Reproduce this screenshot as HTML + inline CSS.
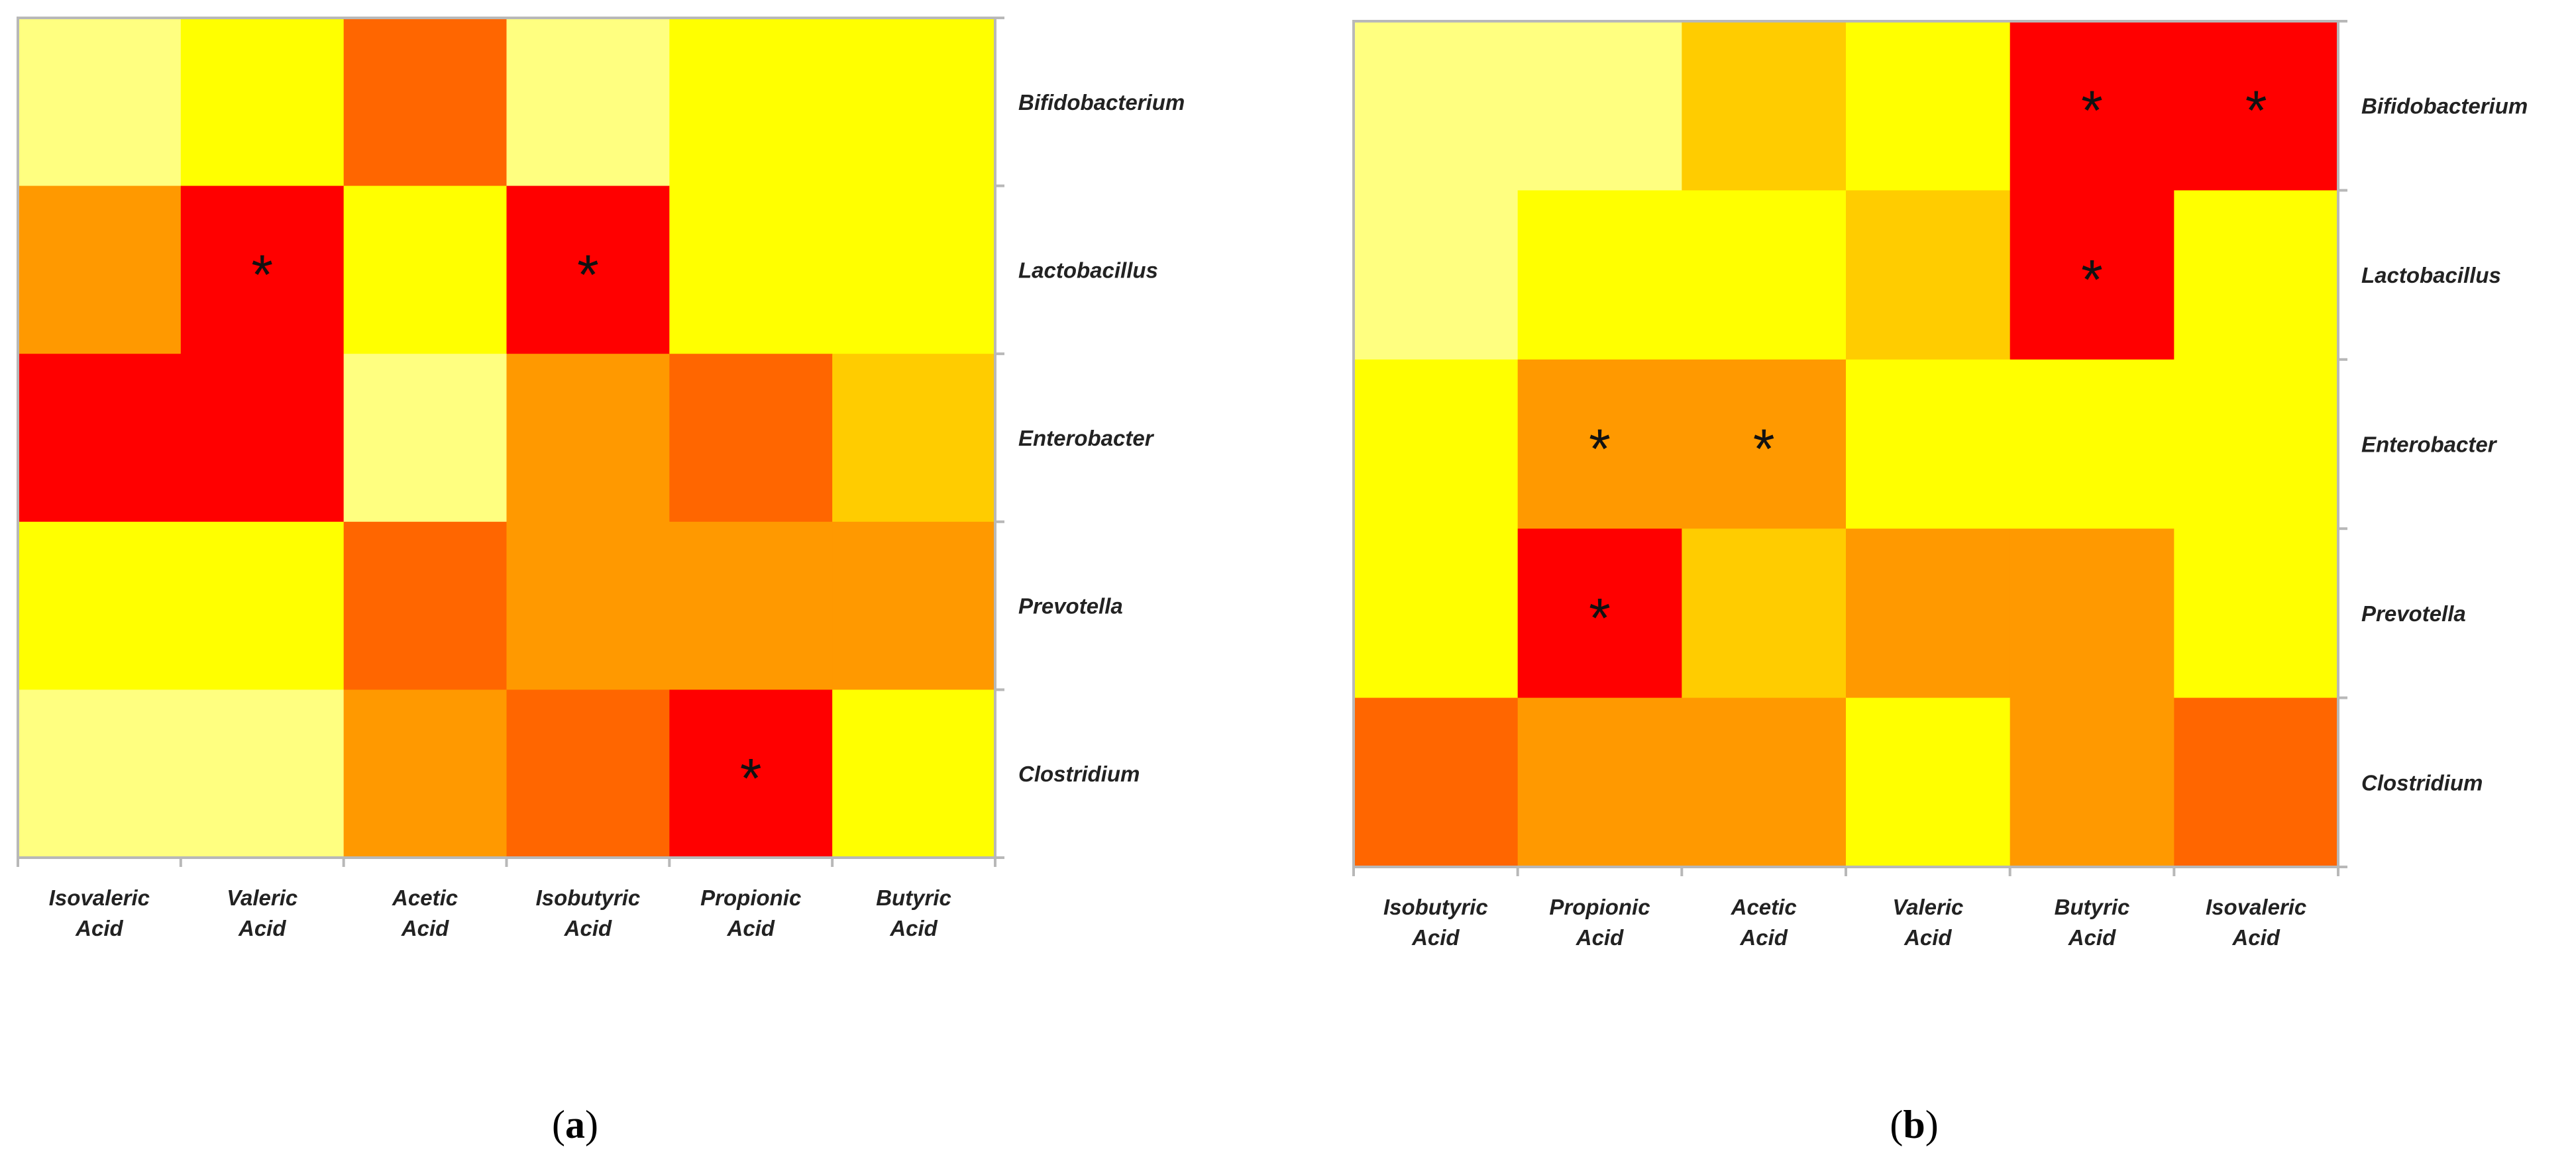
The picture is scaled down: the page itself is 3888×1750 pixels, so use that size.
<!DOCTYPE html>
<html><head><meta charset="utf-8"><style>
html,body{margin:0;padding:0;background:#fff;}
svg{display:block;}
</style></head><body>
<svg id="chart" width="3888" height="1750" viewBox="0 0 3888 1750" xmlns="http://www.w3.org/2000/svg"></svg>
<script>
const palette = ["#FFFF80","#FFFF00","#FFCC00","#FF9900","#FF6600","#FF0000"];
const rowsA = ["Bifidobacterium","Lactobacillus","Enterobacter","Prevotella","Clostridium"];
const colsA = ["Isovaleric","Valeric","Acetic","Isobutyric","Propionic","Butyric"];
const levelsA = [
  [0,1,4,0,1,1],
  [3,5,1,5,1,1],
  [5,5,0,3,4,2],
  [1,1,4,3,3,3],
  [0,0,3,4,5,1]
];
const starsA = [
  [0,0,0,0,0,0],
  [0,1,0,1,0,0],
  [0,0,0,0,0,0],
  [0,0,0,0,0,0],
  [0,0,0,0,1,0]
];
const rowsB = ["Bifidobacterium","Lactobacillus","Enterobacter","Prevotella","Clostridium"];
const colsB = ["Isobutyric","Propionic","Acetic","Valeric","Butyric","Isovaleric"];
const levelsB = [
  [0,0,2,1,5,5],
  [0,1,1,2,5,1],
  [1,3,3,1,1,1],
  [1,5,2,3,3,1],
  [4,3,3,1,3,4]
];
const starsB = [
  [0,0,0,0,1,1],
  [0,0,0,0,1,0],
  [0,1,1,0,0,0],
  [0,1,0,0,0,0],
  [0,0,0,0,0,0]
];

const NS = "http://www.w3.org/2000/svg";
const svg = document.getElementById('chart');
function mk(tag, attrs, parent){
  const e = document.createElementNS(NS, tag);
  for (const k in attrs) e.setAttribute(k, attrs[k]);
  (parent||svg).appendChild(e);
  return e;
}

function panel(cfg, rows, cols, levels, stars){
  const g = mk('g', {});
  
  
  const cw = (cfg.x1 - cfg.x0) / cols.length;
  const rh = (cfg.y1 - cfg.y0) / rows.length;
  const xs = i => cfg.x0 + i * cw;
  const ys = j => cfg.y0 + j * rh;
  for (let j = 0; j < rows.length; j++){
    for (let i = 0; i < cols.length; i++){
      const r = mk('rect', {x: xs(i), y: ys(j), width: cw + 0.5, height: rh + 0.5, fill: palette[levels[j][i]]}, g);
      
      
      if (stars[j][i]){
        const t = mk('text', {x: xs(i) + cw/2, y: ys(j) + rh/2 + 36, 'text-anchor':'middle', 'font-family':'Liberation Sans, sans-serif', 'font-size':'84', fill:'#111'}, g);
        t.textContent = '*';
        
        
      }
    }
  }
  // frame
  const f = mk('path', {d: `M${cfg.x0} ${cfg.y0} H${cfg.x1} V${cfg.y1} H${cfg.x0} Z`, fill:'none', stroke:'#b8b8b8', 'stroke-width':4}, g);
  
  
  // right ticks + row labels
  for (let j = 0; j <= rows.length; j++){
    mk('line', {x1: cfg.x1, x2: cfg.x1 + 14, y1: ys(j), y2: ys(j), stroke:'#b8b8b8', 'stroke-width':4}, g);
  }
  for (let j = 0; j < rows.length; j++){
    const t = mk('text', {x: cfg.x1 + 35, y: ys(j) + rh/2 + 12, 'font-family':'Liberation Sans, sans-serif', 'font-size':'33', 'font-style':'italic', 'font-weight':'bold', fill:'#222'}, g);
    t.textContent = rows[j];
    
    
  }
  // bottom ticks + col labels
  for (let i = 0; i <= cols.length; i++){
    mk('line', {x1: xs(i), x2: xs(i), y1: cfg.y1, y2: cfg.y1 + 14, stroke:'#b8b8b8', 'stroke-width':4}, g);
  }
  for (let i = 0; i < cols.length; i++){
    const t = mk('text', {x: xs(i) + cw/2, y: cfg.y1 + 72, 'text-anchor':'middle', 'font-family':'Liberation Sans, sans-serif', 'font-size':'33', 'font-style':'italic', 'font-weight':'bold', fill:'#222'}, g);
    
    
    const a = mk('tspan', {x: xs(i) + cw/2, dy: 0}, t); a.textContent = cols[i];
    const b = mk('tspan', {x: xs(i) + cw/2, dy: 46}, t); b.textContent = 'Acid';
  }
  const cap = mk('text', {x: cfg.capX, y: 1718, 'text-anchor':'middle', 'font-family':'Liberation Serif, serif', 'font-size':'60', fill:'#000'}, g);
  
  
  const p1 = mk('tspan', {}, cap); p1.textContent = '(';
  const p2 = mk('tspan', {'font-weight':'bold'}, cap); p2.textContent = cfg.letter;
  const p3 = mk('tspan', {}, cap); p3.textContent = ')';
}

panel({name:'panel-a', x0:27, x1:1502, y0:27, y1:1295, capX:868, letter:'a'}, rowsA, colsA, levelsA, starsA);
panel({name:'panel-b', x0:2043, x1:3529, y0:32, y1:1309, capX:2889, letter:'b'}, rowsB, colsB, levelsB, starsB);
</script>
</body></html>
